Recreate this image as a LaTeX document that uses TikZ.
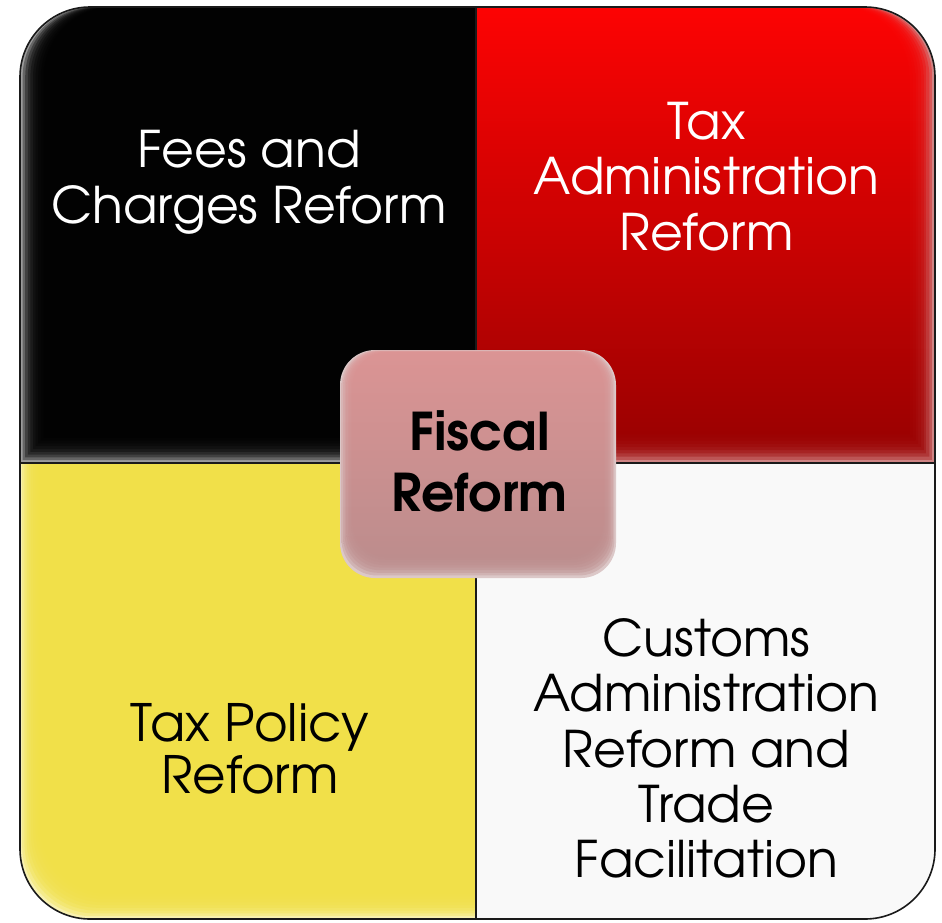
\documentclass[tikz,border=0pt]{standalone}
\usepackage{fontspec}
\setmainfont{TeX Gyre Adventor}
\definecolor{outline}{HTML}{1A1A1A}
\definecolor{blackedge}{HTML}{9C9C9C}
\definecolor{redtop}{HTML}{FF0202}
\definecolor{redbot}{HTML}{960000}
\definecolor{rededge}{HTML}{D08484}
\definecolor{yellowmain}{HTML}{F1E048}
\definecolor{yellowedge}{HTML}{F8F1B0}
\definecolor{whitemain}{HTML}{F9F9F9}
\definecolor{boxtop}{HTML}{DB9494}
\definecolor{boxbot}{HTML}{BA8C8C}
\definecolor{boxedge}{HTML}{DCC8C8}
\tikzset{
  quadtext/.style={align=center, inner sep=0pt, font=\fontsize{50.5}{55.5}\selectfont,
    execute at begin node=\strut, execute at end node=\strut},
  fiscaltext/.style={align=center, inner sep=0pt, font=\fontsize{52}{61}\selectfont\bfseries,
    execute at begin node=\strut, execute at end node=\strut},
  divider/.style={draw=outline, line width=1.4pt},
  outerline/.style={draw=outline, line width=1.6pt, rounded corners=70pt}
}
\begin{document}
\begin{tikzpicture}[x=1pt,y=-1pt]
\useasboundingbox (0,0) rectangle (942,922);
\begin{scope}
  \clip[rounded corners=70pt] (20,7) rectangle (935,919);
  % black quadrant
  \fill[blackedge] (20,7) rectangle (476,463);
  \foreach \k in {1,...,9}{
    \fill[black, opacity=0.35] (476,7) -- ({20+2.6*\k+70},7)
      arc[start angle=270, end angle=180, radius=70]
      -- ({20+2.6*\k},{463-2.8*\k}) -- (476,{463-2.8*\k}) -- cycle;
  }
  % red quadrant
  \fill[rededge] (476,7) rectangle (935,463);
  \foreach \k in {1,...,9}{
    \begin{scope}[opacity=0.35]
      \clip (476,7) -- ({935-2.8*\k-70},7)
        arc[start angle=270, end angle=360, radius=70]
        -- ({935-2.8*\k},{463-3.2*\k}) -- (476,{463-3.2*\k}) -- cycle;
      \shade[top color=redtop, bottom color=redbot] (476,7) rectangle (935,463);
    \end{scope}
  }
  % yellow quadrant
  \fill[yellowedge] (20,463) rectangle (476,919);
  \foreach \k in {1,...,9}{
    \fill[yellowmain, opacity=0.35] (476,463) -- ({20+2.2*\k},463)
      -- ({20+2.2*\k},{919-2.8*\k-70})
      arc[start angle=180, end angle=90, radius=70]
      -- (476,{919-2.8*\k}) -- cycle;
  }
  % white quadrant
  \fill[whitemain] (476,463) rectangle (935,919);
\end{scope}
% dividers and outline
\coordinate (vt) at (476,7);
\coordinate (vb) at (476,919);
\coordinate (hl) at (20,463);
\coordinate (hr) at (935,463);
\draw[divider] (vt) -- (vb);
\draw[divider] (hl) -- (hr);
\draw[outerline] (20,7) rectangle (935,919);
% centre box
\fill[boxedge, rounded corners=35pt] (340,350) rectangle (616,578);
\foreach \k in {1,...,9}{
  \begin{scope}[opacity=0.35]
    \clip[rounded corners=35pt] ({340+1.6*\k},{350+0.3*\k}) rectangle ({616-1.6*\k},{578-2.6*\k});
    \shade[top color=boxtop, bottom color=boxbot] (340,350) rectangle (616,578);
  \end{scope}
}
% texts
\node[quadtext, text=white] (fees) at (249,185) {Fees and\\Charges Reform};
\node[quadtext, text=white] (taxadmin) at (706.5,184.5) {Tax\\Administration\\Reform};
\node[fiscaltext, text=black] (fiscal) at (479.5,470) {Fiscal\\Reform};
\node[quadtext, text=black, font=\fontsize{51.5}{52}\selectfont] (taxpolicy) at (250,756) {Tax Policy\\Reform};
\node[quadtext, text=black, font=\fontsize{50.5}{55.25}\selectfont] (customs) at (706.5,756.5) {Customs\\Administration\\Reform and\\Trade\\Facilitation};
\end{tikzpicture}
\end{document}
